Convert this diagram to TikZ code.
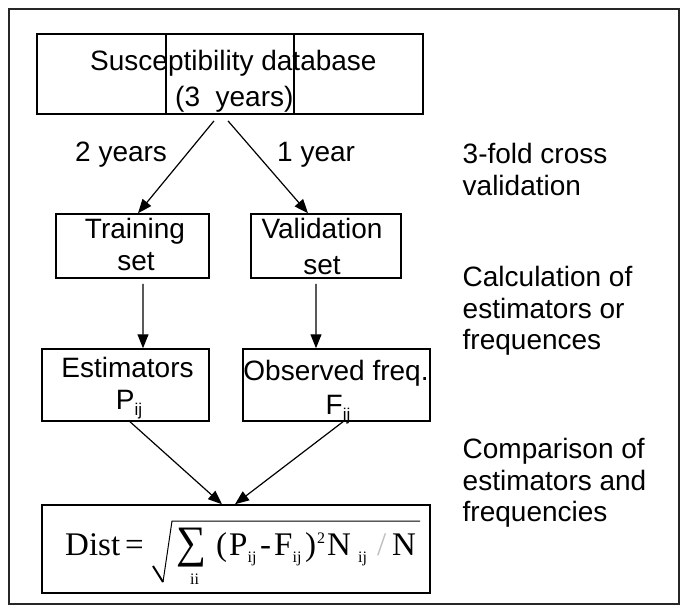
\documentclass[tikz,border=0pt]{standalone}
\usepackage{fontspec}
\usepackage{graphicx}
\setmainfont{Liberation Sans}
\newfontfamily\formulafont{Liberation Serif}
\usetikzlibrary{arrows.meta}
\newcommand\sbij{\lower6bp\hbox{\fontsize{17bp}{17bp}\selectfont ij}}

\begin{document}
\begin{tikzpicture}[x=1bp,y=-1bp,
  txt/.style={inner sep=0pt, font=\fontsize{28bp}{33bp}\selectfont},
  side/.style={txt, anchor=base west},
  box/.style={draw, line width=1.5bp, inner sep=0pt},
  arr/.style={line width=1.2bp, -{Triangle[length=14bp,width=11bp]}},
  fm/.style={inner sep=0pt, anchor=base west, font=\formulafont\fontsize{33bp}{33bp}\selectfont},
  fs/.style={inner sep=0pt, anchor=base west, font=\formulafont\fontsize{16bp}{16bp}\selectfont},
]
\useasboundingbox (0,0) rectangle (683,612);

% outer frame
\draw[line width=1.5bp, draw=black!85] (9,9) rectangle (679,604);

% boxes
\node[box, line width=1.8bp, minimum width=386bp, minimum height=80bp] (db) at (230,74) {};
\node[box, minimum width=153bp, minimum height=64bp] (train) at (132.5,246) {};
\node[box, minimum width=150bp, minimum height=64bp] (valid) at (326,246) {};
\node[box, minimum width=167bp, minimum height=72bp] (est) at (125.5,385) {};
\node[box, minimum width=187bp, minimum height=72bp] (obs) at (336.5,385) {};
\node[box, minimum width=388bp, minimum height=88bp] (dist) at (236,549) {};

% dividers of the database box
\coordinate (d1) at (166,0);
\coordinate (d2) at (294,0);
\draw[line width=1.3bp] (db.north -| d1) -- (db.south -| d1);
\draw[line width=1.3bp] (db.north -| d2) -- (db.south -| d2);

% box texts
\node[side] (dbt1) at (90,70.5) {Susceptibility database};
\node[side] (dbt2) at (175,107) {(3\ \ years)};
\node[side] (y2) at (75,162) {2 years};
\node[side] (y1) at (277,162) {1 year};
\node[txt, anchor=base] (tr1) at (135,238.5) {Training};
\node[txt, anchor=base] (tr2) at (136,270.5) {set};
\node[txt, anchor=base] (va1) at (322,238.5) {Validation};
\node[txt, anchor=base] (va2) at (322,274) {set};
\node[txt, anchor=base] (es1) at (127.5,377.5) {Estimators};
\node[txt, anchor=base] (es2) at (129,409.5) {P\sbij};
\node[txt, anchor=base] (ob1) at (336,380.5) {Observed freq.};
\node[txt, anchor=base] (ob2) at (338,414) {F\sbij};

% stage descriptions
\node[side] (s1a) at (462.5,163.5) {3-fold cross};
\node[side] (s1b) at (462.5,195.5) {validation};
\node[side] (s2a) at (462.5,286.5) {Calculation of};
\node[side] (s2b) at (462.5,318.5) {estimators or};
\node[side] (s2c) at (462.5,349.5) {frequences};
\node[side] (s3a) at (462.5,458.5) {Comparison of};
\node[side] (s3b) at (462.5,490) {estimators and};
\node[side] (s3c) at (462.5,521) {frequencies};

% formula
\node[fm] (fdist) at (65,555) {Dist};
\node[fm] (feq) at (125,555) {=};
\node[inner sep=0pt, anchor=south west, font=\formulafont\fontsize{38bp}{38bp}\selectfont] (fsum) at (176,567) {\resizebox*{30bp}{39bp}{∑}};
\node[fs] (fii) at (190,584) {ii};
\node[fm] (flp) at (216,555) {(};
\node[fm] (fp) at (229,555) {P};
\node[fs] (fpij) at (247.5,562) {ij};
\node[fm] (fmin) at (260,555) {-};
\node[fm] (ff) at (274,555) {F};
\node[fs] (ffij) at (292.5,562) {ij};
\node[fm] (frp) at (305,555) {)};
\node[fs] (fsq) at (317,543) {2};
\node[fm] (fn1) at (327,555) {N};
\node[fs] (fnij) at (358,562) {ij};
\node[fm, text=black!25] (fsl) at (377,555) {/};
\node[fm] (fn2) at (392,555) {N};
\draw[line width=2bp] (153,566) -- (163,582);
\draw[line width=1bp] (163,582) -- (172,521) -- (420,521);

% connectors
\draw[arr] ([xshift=-16bp,yshift=-6bp]db.south) -- ([xshift=5.5bp]train.north);
\draw[arr] ([xshift=-2bp,yshift=-6bp]db.south) -- ([xshift=-18bp]valid.north);
\draw[arr] ([xshift=10.5bp,yshift=-5bp]train.south) -- ([xshift=17.5bp]est.north);
\draw[arr] ([xshift=-10bp,yshift=-5bp]valid.south) -- ([xshift=-20.5bp]obs.north);
\draw[arr] ([xshift=4.5bp]est.south) -- ([xshift=-14bp]dist.north);
\draw[arr] ([xshift=6.5bp]obs.south) -- ([xshift=-1bp]dist.north);
\end{tikzpicture}
\end{document}
